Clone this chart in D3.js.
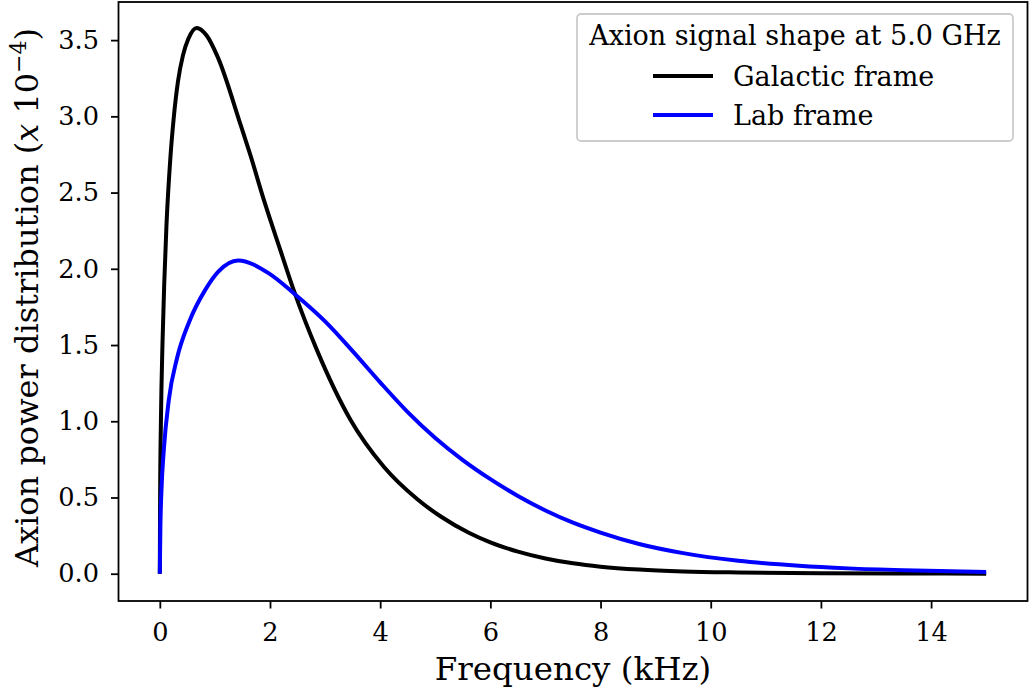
<!DOCTYPE html>
<html>
<head>
<meta charset="utf-8">
<script src="https://cdn.jsdelivr.net/npm/d3@7"></script>
<style>
  body { margin: 0; background: #fff; }
  text { font-family: "DejaVu Serif", serif; fill: #000; }
</style>
</head>
<body>
<div id="viz"></div>
<script>
// frequency in kHz, values in units of 1e-4
const galacticFreq = [0, 0.005, 0.02, 0.05, 0.08, 0.12, 0.19, 0.25, 0.33, 0.42, 0.52, 0.67, 0.85, 1.05, 1.47, 1.64, 1.89, 2.19, 2.43, 2.86, 3.46, 4.07, 4.67, 5.1, 5.6, 6.0, 6.5, 7.0, 7.5, 8.0, 8.7, 9.5, 10.5, 12.0, 13.5, 15.0];
const galacticPower = [0, 0.5, 1.0, 1.53, 1.9, 2.28, 2.72, 2.98, 3.23, 3.4, 3.51, 3.58, 3.53, 3.39, 2.94, 2.75, 2.45, 2.12, 1.86, 1.46, 1.01, 0.7, 0.49, 0.375, 0.27, 0.205, 0.145, 0.1, 0.068, 0.046, 0.027, 0.015, 0.008, 0.003, 0.0015, 0.0005];

const labFreq = [0, 0.01, 0.03, 0.073, 0.163, 0.31, 0.53, 0.83, 1.07, 1.42, 1.98, 2.43, 3.0, 3.5, 4.0, 4.5, 5.0, 5.5, 6.0, 6.5, 7.0, 7.5, 8.0, 8.7, 9.5, 10.5, 11.6, 12.5, 13.5, 15.0];
const labPower = [0, 0.3, 0.55, 0.815, 1.14, 1.41, 1.65, 1.865, 1.985, 2.055, 1.97, 1.84, 1.655, 1.46, 1.255, 1.06, 0.89, 0.745, 0.62, 0.51, 0.415, 0.335, 0.27, 0.195, 0.135, 0.085, 0.052, 0.035, 0.023, 0.012];

const xTicks = [0, 2, 4, 6, 8, 10, 12, 14];
const yTicks = [0, 0.5, 1.0, 1.5, 2.0, 2.5, 3.0, 3.5];

const legendTitle = "Axion signal shape at 5.0 GHz";
const seriesNames = ["Galactic frame", "Lab frame"];
const seriesColors = ["#000000", "#0000ff"];

const width = 1030;
const height = 697;
const margin = { left: 118.5, right: 2.5, top: 2, bottom: 96 };

const svg = d3.select("#viz")
    .append("svg")
    .attr("width", width)
    .attr("height", height);

const x = d3.scaleLinear()
    .domain([-0.75, 15.75])
    .range([margin.left, width - margin.right]);

const y = d3.scaleLinear()
    .domain([-0.179, 3.75])
    .range([height - margin.bottom, margin.top]);

// curves
const line = d3.line()
    .x(d => x(d[0]))
    .y(d => y(d[1]))
    .curve(d3.curveMonotoneX);

const series = [
    d3.zip(galacticFreq, galacticPower),
    d3.zip(labFreq, labPower)
];

svg.selectAll("path.curve")
    .data(series)
    .enter()
    .append("path")
    .attr("class", "curve")
    .attr("d", d => line(d))
    .attr("fill", "none")
    .attr("stroke", (d, i) => seriesColors[i])
    .attr("stroke-width", 4);

// axes
const xAxis = svg.append("g")
    .attr("transform", `translate(0,${height - margin.bottom})`)
    .call(d3.axisBottom(x).tickValues(xTicks).tickFormat(d3.format("d")).tickSize(7.5).tickPadding(14));

const yAxis = svg.append("g")
    .attr("transform", `translate(${margin.left},0)`)
    .call(d3.axisLeft(y).tickValues(yTicks).tickFormat(d3.format(".1f")).tickSize(7.5).tickPadding(12));

[xAxis, yAxis].forEach(g => {
    g.select(".domain").remove();
    g.selectAll(".tick line").attr("stroke", "#000").attr("stroke-width", 1.8);
    g.selectAll(".tick text")
        .attr("font-family", "DejaVu Serif")
        .attr("font-size", 25.6)
        .attr("fill", "#000");
});

// frame
svg.append("rect")
    .attr("x", margin.left)
    .attr("y", margin.top)
    .attr("width", width - margin.left - margin.right)
    .attr("height", height - margin.top - margin.bottom)
    .attr("fill", "none")
    .attr("stroke", "#000")
    .attr("stroke-width", 1.8);

// axis labels
svg.append("text")
    .attr("x", (margin.left + width - margin.right) / 2)
    .attr("y", 680)
    .attr("text-anchor", "middle")
    .attr("font-size", 32.5)
    .text("Frequency (kHz)");

const yl = svg.append("text")
    .attr("transform", `translate(38,${(margin.top + height - margin.bottom) / 2 - 4}) rotate(-90)`)
    .attr("text-anchor", "middle")
    .attr("font-size", 32);
yl.append("tspan").text("Axion power distribution (");
yl.append("tspan").attr("font-style", "italic").text("x");
yl.append("tspan").text(" 10");
yl.append("tspan").attr("font-size", 22).attr("dy", -12).text("−4");
yl.append("tspan").attr("dy", 12).text(")");

// legend
const legend = svg.append("g");
legend.append("rect")
    .attr("x", 577)
    .attr("y", 14)
    .attr("width", 436)
    .attr("height", 127)
    .attr("rx", 4)
    .attr("fill", "#fff")
    .attr("fill-opacity", 0.8)
    .attr("stroke", "#cccccc")
    .attr("stroke-width", 1.8);

legend.append("text")
    .attr("x", 795)
    .attr("y", 45)
    .attr("text-anchor", "middle")
    .attr("font-size", 27)
    .text(legendTitle);

seriesNames.forEach((name, i) => {
    const ly = 76 + i * 39;
    legend.append("line")
        .attr("x1", 653).attr("x2", 713)
        .attr("y1", ly).attr("y2", ly)
        .attr("stroke", seriesColors[i])
        .attr("stroke-width", 4);
    legend.append("text")
        .attr("x", 733)
        .attr("y", ly + 9.5)
        .attr("font-size", 27)
        .text(name);
});
</script>
</body>
</html>
